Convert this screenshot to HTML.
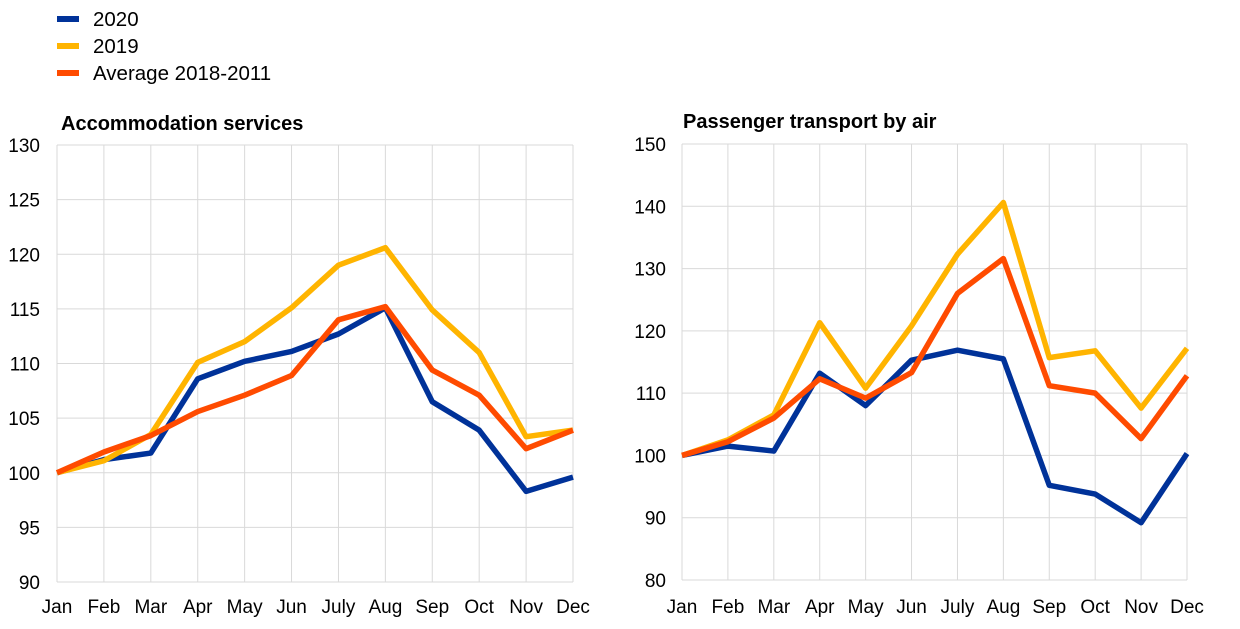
<!DOCTYPE html>
<html><head><meta charset="utf-8"><style>
body{margin:0;background:#fff;}
svg text{font-family:"Liberation Sans",Arial,sans-serif;fill:#000;}
</style></head><body>
<svg id="s" width="1240" height="624" xmlns="http://www.w3.org/2000/svg"></svg>
<script>
const s=document.getElementById('s');let h='';
const C={b:'#003299',y:'#FFB400',o:'#FF4B00'};
[['2020',C.b,19],['2019',C.y,46],['Average 2018-2011',C.o,73]].forEach(([t,c,y])=>{
h+=`<line x1="57" x2="79" y1="${y}" y2="${y}" stroke="${c}" stroke-width="6"/>`;
h+=`<text x="93" y="${y+7}" font-size="20.5">${t}</text>`;});
const M=['Jan','Feb','Mar','Apr','May','Jun','July','Aug','Sep','Oct','Nov','Dec'];
function chart(x0,x1,yt,yb,vmin,vmax,step,title,tx,ty,lx,data){
 const X=i=>x0+(x1-x0)*i/11,Y=v=>yb-(v-vmin)/(vmax-vmin)*(yb-yt);
 for(let i=0;i<12;i++)h+=`<line x1="${X(i)}" x2="${X(i)}" y1="${yt}" y2="${yb}" stroke="#d9d9d9" stroke-width="1"/>`;
 for(let v=vmin;v<=vmax;v+=step){h+=`<line x1="${x0}" x2="${x1}" y1="${Y(v)}" y2="${Y(v)}" stroke="#d9d9d9" stroke-width="1"/>`;
  h+=`<text x="${lx}" y="${Y(v)+7}" font-size="19" text-anchor="end">${v}</text>`;}
 M.forEach((m,i)=>h+=`<text x="${X(i)}" y="613" font-size="19" text-anchor="middle">${m}</text>`);
 h+=`<text x="${tx}" y="${ty}" font-size="20" font-weight="bold">${title}</text>`;
 data.forEach(([c,d])=>{h+=`<polyline fill="none" stroke="${c}" stroke-width="5.5" stroke-linejoin="round" points="${d.map((v,i)=>X(i)+','+Y(v)).join(' ')}"/>`;});
}
chart(57,573,145,582,90,130,5,'Accommodation services',61,130,40,[
[C.b,[100,101.2,101.8,108.6,110.2,111.1,112.7,115.1,106.5,103.9,98.3,99.6]],
[C.y,[100,101.1,103.5,110.1,112.0,115.1,119.0,120.6,114.9,111.0,103.3,103.9]],
[C.o,[100,101.9,103.4,105.6,107.1,108.9,114.0,115.2,109.4,107.1,102.2,103.9]]]);
chart(682,1187,144,580,80,150,10,'Passenger transport by air',683,128,666,[
[C.b,[100,101.5,100.7,113.2,108.0,115.3,116.9,115.5,95.2,93.8,89.2,100.3]],
[C.y,[100,102.5,106.5,121.3,110.8,120.8,132.3,140.6,115.7,116.8,107.6,117.2]],
[C.o,[100,102.2,106.0,112.3,109.2,113.3,126.0,131.6,111.2,110.0,102.7,112.8]]]);
s.innerHTML=h;
</script>
</body></html>
